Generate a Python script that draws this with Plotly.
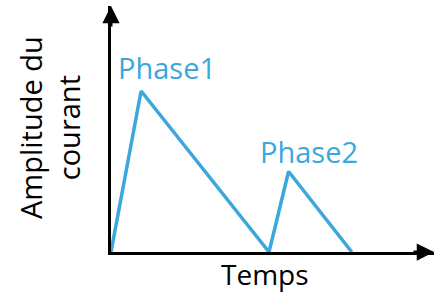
import plotly.graph_objects as go

# Data (arbitrary units)
temps = [0, 1, 5.25, 5.9, 8.0]
amplitude = [0, 1, 0, 0.5, 0]
phase_labels = ["Phase1", "Phase2"]
phase_idx = [1, 3]

BLUE = "#3BA7DC"
FONT = "Open Sans"

x_per_px = 1 / 30.1
y_per_px = 1 / 161.0
X_MAX = 323 * x_per_px
Y_MAX = 246 * y_per_px

fig = go.Figure()
fig.add_trace(go.Scatter(x=temps, y=amplitude, mode="lines",
                         line=dict(color=BLUE, width=3.5), hoverinfo="skip",
                         showlegend=False))

annotations = []
# arrowheads at the ends of the axis lines
annotations.append(dict(x=0, y=Y_MAX, xref="x", yref="y", ax=0, ay=22,
                        text="", showarrow=True,
                        arrowhead=2, arrowwidth=3, arrowsize=1.15, arrowcolor="black", standoff=0))
annotations.append(dict(x=X_MAX, y=0, xref="x", yref="y", ax=-22, ay=0,
                        text="", showarrow=True,
                        arrowhead=2, arrowwidth=3, arrowsize=1.15, arrowcolor="black", standoff=0))
# phase labels
shifts = [(26, 24), (20, 20)]
for lab, i, (dx, dy) in zip(phase_labels, phase_idx, shifts):
    annotations.append(dict(x=temps[i], y=amplitude[i], xref="x", yref="y", text=lab,
                            showarrow=False, xshift=dx, yshift=dy,
                            font=dict(family=FONT, size=29, color=BLUE),
                            xanchor="center", yanchor="middle"))
# axis titles
annotations.append(dict(x=154 * x_per_px, y=0, xref="x", yref="y", text="Temps",
                        showarrow=False, yshift=-22, xanchor="center", yanchor="middle",
                        font=dict(family=FONT, size=28, color="black")))
annotations.append(dict(x=0, y=124 * y_per_px, xref="x", yref="y",
                        text="Amplitude du<br>courant", textangle=-90,
                        showarrow=False, xshift=-62, xanchor="center", yanchor="middle",
                        font=dict(family=FONT, size=29, color="black")))

axis_style = dict(visible=True, showline=True, linecolor="black", linewidth=3,
                  showgrid=False, zeroline=False, showticklabels=False, ticks="",
                  fixedrange=True)
fig.update_layout(
    width=434, height=293,
    margin=dict(l=111, r=0, t=6, b=41, autoexpand=False),
    paper_bgcolor="white", plot_bgcolor="white",
    xaxis=dict(range=[0, X_MAX], **axis_style),
    yaxis=dict(range=[0, Y_MAX], **axis_style),
    annotations=annotations,
)

fig.write_html("out.html", config={"displayModeBar": False},
               post_script="document.body.style.margin='0';document.body.style.overflow='hidden';")
